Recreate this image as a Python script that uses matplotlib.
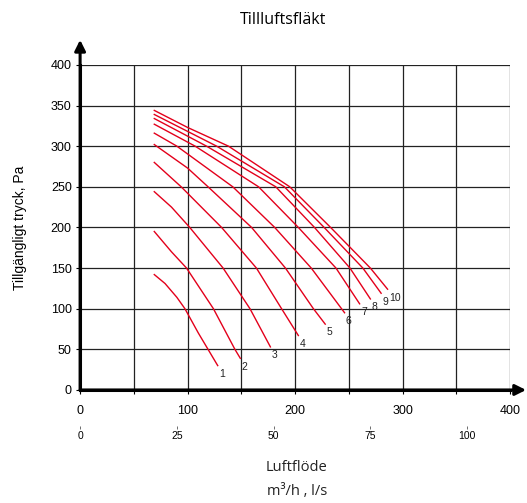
import numpy as np
import matplotlib.pyplot as plt
from matplotlib.ticker import MultipleLocator

# fan curves 1..10: airflow (m3/h) and available pressure (Pa)
curve_names = ["1", "2", "3", "4", "5", "6", "7", "8", "9", "10"]
curve_x = [
    [69, 79, 90, 97.5, 110, 119, 128],
    [69, 85, 99, 124, 144, 149],
    [69, 85, 102, 133, 158, 177],
    [69, 94, 131.6, 164, 187.4, 203],
    [69, 100, 119, 159.5, 191, 217, 228],
    [69, 90, 142, 181, 215, 246],
    [69, 107, 166, 203, 238, 260],
    [69, 117.6, 182, 218, 251, 270],
    [69, 127, 190, 227, 263, 280],
    [69, 100, 138, 195, 233, 270, 286],
]
curve_y = [
    [142, 131, 114, 100, 70, 50, 30],
    [195, 170, 150, 100, 50, 39],
    [244, 225, 200, 150, 100, 53],
    [280, 250, 200, 150, 100, 67],
    [302, 273, 250, 200, 150, 100, 81],
    [316, 300, 250, 200, 150, 95],
    [327, 300, 250, 200, 150, 106],
    [334, 300, 250, 200, 150, 112],
    [339, 300, 250, 200, 150, 119],
    [344, 323, 300, 250, 200, 150, 124],
]

x_ticks = [0, 100, 200, 300, 400]
y_ticks = [0, 50, 100, 150, 200, 250, 300, 350, 400]
ls_ticks = [0, 25, 50, 75, 100]  # l/s, 1 l/s = 3.6 m3/h

plt.rcParams['font.family'] = ['Liberation Sans', 'DejaVu Sans']

fig = plt.figure(figsize=(5.27, 5.03), dpi=100)
ax = fig.add_axes([0.152, 0.2247, 0.816, 0.6463])

for name, xs, ys in zip(curve_names, curve_x, curve_y):
    ax.plot(xs, ys, color='#e3001b', lw=1.0, zorder=3)
    ax.annotate(name, (xs[-1], ys[-1]), xytext=(1, -6), textcoords='offset points',
                ha='left', va='center', fontsize=7.5, color='#222222')

ax.set_xlim(0, 400)
ax.set_ylim(0, 400)
ax.set_xticks(x_ticks)
ax.xaxis.set_minor_locator(MultipleLocator(50))
ax.set_yticks(y_ticks)
ax.grid(which='both', color='#222222', lw=0.9)
ax.set_axisbelow(True)
ax.tick_params(which='major', length=3, width=0.8, labelsize=9, pad=3)
ax.tick_params(axis='x', which='minor', length=3, width=0.8)
ax.tick_params(axis='x', pad=8)

for s in ['top', 'right']:
    ax.spines[s].set_visible(False)
for s in ['left', 'bottom']:
    ax.spines[s].set_linewidth(2.2)

# arrows on the axes
ax.annotate('', xy=(0, 1.077), xytext=(0, 0), xycoords='axes fraction',
            arrowprops=dict(arrowstyle='-|>', lw=2.2, color='black', mutation_scale=16,
                            shrinkA=0, shrinkB=0), annotation_clip=False)
ax.annotate('', xy=(1.037, 0), xytext=(0, 0), xycoords='axes fraction',
            arrowprops=dict(arrowstyle='-|>', lw=2.2, color='black', mutation_scale=16,
                            shrinkA=0, shrinkB=0), annotation_clip=False)

# second scale in l/s
sec = ax.secondary_xaxis(-0.11, functions=(lambda v: v / 3.6, lambda v: v * 3.6))
sec.set_xticks(ls_ticks)
sec.spines['bottom'].set_visible(False)
sec.tick_params(length=2.5, width=0.6, labelsize=7.5, pad=1, color='#555555')

ax.set_ylabel('Tillgängligt tryck, Pa', fontsize=10, labelpad=17)

fig.text(0.537, 0.96, 'Tillluftsfläkt', ha='center', va='center',
         fontsize=11.5, family=['Open Sans', 'DejaVu Sans'])
fig.text(0.563, 0.07, 'Luftflöde', ha='center', va='center',
         fontsize=10.5, family=['Open Sans', 'DejaVu Sans'], color='#222222')
fig.text(0.563, 0.022, 'm³/h , l/s', ha='center', va='center',
         fontsize=10.5, family=['Open Sans', 'DejaVu Sans'], color='#222222')

fig.savefig('out.png', dpi=100)
